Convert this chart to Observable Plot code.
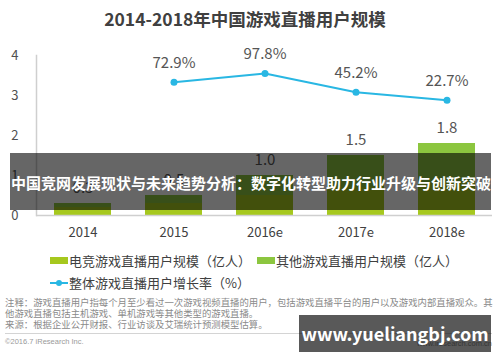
<!DOCTYPE html>
<html>
<head>
<meta charset="utf-8">
<script src="https://cdn.jsdelivr.net/npm/d3@7"></script>
<script src="https://cdn.jsdelivr.net/npm/@observablehq/plot@0.6"></script>
<style>
  html, body { margin: 0; padding: 0; background: #fff; }
  body { width: 500px; height: 362px; position: relative; overflow: hidden;
         font-family: "Noto Sans CJK SC", "Noto Sans", sans-serif; color: #404040; }
  .abs { position: absolute; white-space: nowrap; }
  #title { left: 0; width: 490px; top: 6px; text-align: center; font-size: 17.5px; font-weight: bold; line-height: 26px; color: #404040; }
  #chart { left: 0; top: 30px; }
  .leg { font-size: 13px; line-height: 16px; color: #404040; }
  .sw { position: absolute; width: 18px; height: 7px; }
  #foot { left: 5px; top: 297px; font-size: 9.4px; line-height: 11px; color: #8a8a8a; }
  #rule { left: 5px; top: 333px; width: 487px; height: 0; border-top: 1px solid #d4d4d4; }
  #copy { left: 5px; top: 337px; font-size: 7.5px; line-height: 10px; color: #9a9a9a; font-family: "Liberation Sans", Arial, sans-serif; }
  #site { right: 8px; top: 339px; font-size: 7.5px; line-height: 10px; color: #9a9a9a; font-family: "Liberation Sans", Arial, sans-serif; }
  #banner { left: 10px; top: 153px; width: 481px; height: 57px; background: rgba(0,0,0,0.6); }
  #bannerText { left: 11px; top: 172px; font-size: 15px; font-weight: bold; line-height: 22px; color: #fff; }
  #wm { left: 299px; top: 315px; width: 192px; height: 37px; background: rgba(0,0,0,0.65);
        color: #fff; font-weight: bold; font-size: 18px; line-height: 37px; text-align: center; }
</style>
</head>
<body>
<div id="title" class="abs">2014-2018年中国游戏直播用户规模</div>
<div id="chart" class="abs"></div>

<div class="sw" style="left:50px; top:257px; background:#a6c81e;"></div>
<div class="abs leg" style="left:69px; top:253px;">电竞游戏直播用户规模（亿人）</div>
<div class="sw" style="left:257px; top:257px; background:#8cc63f;"></div>
<div class="abs leg" style="left:276px; top:253px;">其他游戏直播用户规模（亿人）</div>
<svg class="abs" style="left:48px; top:277px;" width="22" height="12">
  <line x1="2" y1="6" x2="20" y2="6" stroke="#29b7e3" stroke-width="2"></line>
  <circle cx="11" cy="6" r="3" fill="#29b7e3"></circle>
</svg>
<div class="abs leg" style="left:69px; top:275px;">整体游戏直播用户增长率（%）</div>

<div id="foot" class="abs">注释：游戏直播用户指每个月至少看过一次游戏视频直播的用户，包括游戏直播平台的用户以及游戏内部直播观众。其<br>他游戏直播包括主机游戏、单机游戏等其他类型的游戏直播。<br>来源：根据企业公开财报、行业访谈及艾瑞统计预测模型估算。</div>
<div id="rule" class="abs"></div>
<div id="copy" class="abs">©2016.7 iResearch Inc.</div>
<div id="site" class="abs">www.iresearch.com.cn</div>

<div id="banner" class="abs"></div>
<div id="bannerText" class="abs">中国竞网发展现状与未来趋势分析：数字化转型助力行业升级与创新突破</div>
<div id="wm" class="abs">www.yueliangbj.com</div>

<script>
const years = ["2014", "2015", "2016e", "2017e", "2018e"];
const esports = [0.2, 0.3, 0.5, 0.7, 0.8];
const others = [0.1, 0.2, 0.5, 0.8, 1.0];
const totals = [0.3, 0.5, 1.0, 1.5, 1.8];
const growthYears = ["2015", "2016e", "2017e", "2018e"];
const growth = [72.9, 97.8, 45.2, 22.7];
const yTicks = [0, 1, 2, 3, 4];
const seriesNames = ["电竞游戏直播用户规模", "其他游戏直播用户规模"];

// secondary (hidden) axis for the growth rate, mapped onto the left axis
const rateBase = 2.68, ratePerPercent = 0.0089;

const barData = [];
years.forEach((y, i) => {
  barData.push({year: y, series: seriesNames[0], value: esports[i]});
  barData.push({year: y, series: seriesNames[1], value: others[i]});
});
const totalData = years.map((y, i) => ({year: y, total: totals[i]}));
const growthData = growthYears.map((y, i) => ({year: y, rate: growth[i]}));

const font = '"Noto Sans CJK SC", "Noto Sans", sans-serif';
const chart = Plot.plot({
  width: 500,
  height: 215,
  marginTop: 25,
  marginBottom: 30,
  marginLeft: 36,
  marginRight: 8,
  style: {fontFamily: font, fontSize: "13px", color: "#404040", background: "transparent"},
  x: {domain: years, paddingInner: 0.375, paddingOuter: 0.18, label: null},
  y: {domain: [0, 4], label: null},
  color: {domain: seriesNames, range: ["#a6c81e", "#8cc63f"]},
  marks: [
    Plot.axisY({ticks: yTicks, tickFormat: d => String(d), tickSize: 0, tickPadding: 18, fontSize: 13, fill: "#505050", label: null}),
    Plot.axisX({tickSize: 0, tickPadding: 12, fontSize: 13, fill: "#404040", label: null}),
    Plot.barY(barData, {x: "year", y: "value", fill: "series", order: seriesNames}),
    Plot.ruleY([0], {stroke: "#cfcfcf", strokeWidth: 1.5}),
    Plot.frame({anchor: "left", stroke: "#cfcfcf", strokeWidth: 1.5}),
    Plot.text(totalData, {x: "year", y: "total", text: d => d.total.toFixed(1), dy: -15, fontSize: 15, fill: "#555"}),
    Plot.line(growthData, {x: "year", y: d => rateBase + d.rate * ratePerPercent, stroke: "#29b7e3", strokeWidth: 2}),
    Plot.dot(growthData, {x: "year", y: d => rateBase + d.rate * ratePerPercent, fill: "#29b7e3", r: 3.5}),
    Plot.text(growthData, {x: "year", y: d => rateBase + d.rate * ratePerPercent, text: d => d.rate.toFixed(1) + "%", dy: -19, fontSize: 15, fill: "#555"})
  ]
});
document.getElementById("chart").appendChild(chart);
</script>
</body>
</html>
